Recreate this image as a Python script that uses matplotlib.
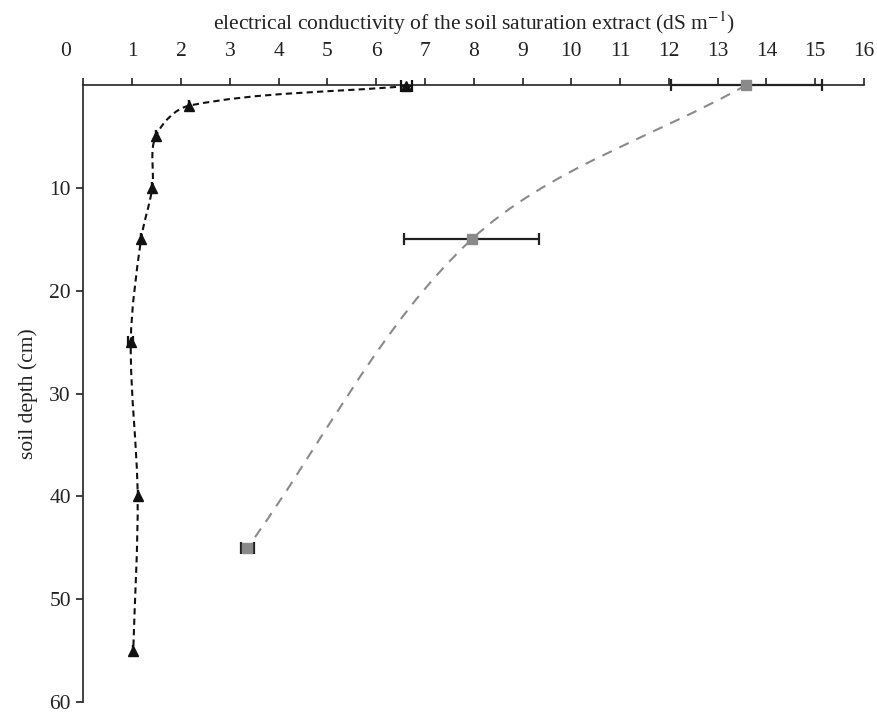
import matplotlib
matplotlib.use("Agg")
import matplotlib.pyplot as plt
import matplotlib.transforms as mtransforms
from matplotlib.path import Path
from matplotlib.patches import PathPatch
import numpy as np

plt.rcParams['font.family'] = ['Liberation Serif', 'DejaVu Serif']
plt.rcParams['mathtext.fontset'] = 'stix'

# Data
black_ec = [6.62, 2.17, 1.48, 1.41, 1.18, 0.97, 1.11, 1.02]
black_depth = [0.1, 2, 5, 10, 15, 25, 40, 55]
black_err = [0.12, 0.0, 0.0, 0.0, 0.0, 0.05, 0.0, 0.0]

gray_ec = [13.59, 7.96, 3.36]
gray_depth = [0, 15, 45]
gray_err = [1.55, 1.38, 0.14]

xticks = list(range(0, 17))
yticks = [10, 20, 30, 40, 50, 60]

fig = plt.figure(figsize=(8.78, 7.12), dpi=100)
ax = fig.add_axes([0.0951, 0.014, 0.8889, 0.8666])
ax.set_xlim(0, 16)
ax.set_ylim(60, 0)


def smooth_path(xs, ys):
    # spline through the points, computed in display space
    pts = ax.transData.transform(np.column_stack([xs, ys]).astype(float))
    n = len(pts)
    verts = [pts[0]]
    codes = [Path.MOVETO]
    for i in range(n - 1):
        p0 = pts[i - 1] if i > 0 else pts[i]
        p1 = pts[i]
        p2 = pts[i + 1]
        p3 = pts[i + 2] if i + 2 < n else pts[i + 1]
        # control after p1
        d01 = np.linalg.norm(p1 - p0)
        d12 = np.linalg.norm(p2 - p1)
        d23 = np.linalg.norm(p3 - p2)
        if i > 0:
            c1 = p1 + (p2 - p0) * d12 / (d01 + d12) / 3.0
        else:
            c1 = p1 + (p2 - p1) / 3.0
        if i + 2 < n:
            c2 = p2 - (p3 - p1) * d12 / (d12 + d23) / 3.0
        else:
            c2 = p2 - (p2 - p1) / 3.0
        verts += [c1, c2, p2]
        codes += [Path.CURVE4] * 3
    verts = ax.transData.inverted().transform(np.array(verts))
    return Path(verts, codes)


# smooth dashed lines
ax.add_patch(PathPatch(smooth_path(gray_ec, gray_depth), fill=False,
                       edgecolor='#8a8a8a', lw=1.5, linestyle=(0, (5, 4)),
                       clip_on=False))
ax.add_patch(PathPatch(smooth_path(black_ec, black_depth), fill=False,
                       edgecolor='#111111', lw=1.5, linestyle=(0, (3, 2)),
                       clip_on=False))

# error bars
ax.errorbar(gray_ec, gray_depth, xerr=gray_err, fmt='none', ecolor='#222222',
            elinewidth=1.6, capsize=4, capthick=1.6, clip_on=False, zorder=3)
ax.errorbar(black_ec, black_depth, xerr=black_err, fmt='none', ecolor='#111111',
            elinewidth=1.6, capsize=4, capthick=1.6, clip_on=False, zorder=3)

# markers
ax.plot(gray_ec, gray_depth, linestyle='none', marker='s', markersize=7,
        color='#8a8a8a', clip_on=False, zorder=4)
ax.plot(black_ec, black_depth, linestyle='none', marker='^', markersize=7,
        color='#111111', clip_on=False, zorder=4)

# axes styling
for s in ['right', 'bottom']:
    ax.spines[s].set_visible(False)
for s in ['left', 'top']:
    ax.spines[s].set_linewidth(1.2)
    ax.spines[s].set_color('#222222')

ax.xaxis.tick_top()
ax.xaxis.set_label_position('top')
ax.set_xticks(xticks)
ax.set_yticks(yticks)
ax.tick_params(axis='both', direction='out', length=5, width=1.2,
               labelsize=15.5, colors='#222222', pad=4)
ax.tick_params(axis='x', pad=12)

# shift the "0" label left as in the reference
lbl0 = ax.get_xticklabels()[0]
offset = mtransforms.ScaledTranslation(-18 / 100, 0, fig.dpi_scale_trans)
lbl0.set_transform(lbl0.get_transform() + offset)

ax.set_xlabel('electrical conductivity of the soil saturation extract (dS m$^{-1}$)',
              fontsize=15.5, labelpad=9, color='#222222')
ax.set_ylabel('soil depth (cm)', fontsize=15.5, labelpad=8, color='#222222')

fig.savefig('out.png', dpi=100)
